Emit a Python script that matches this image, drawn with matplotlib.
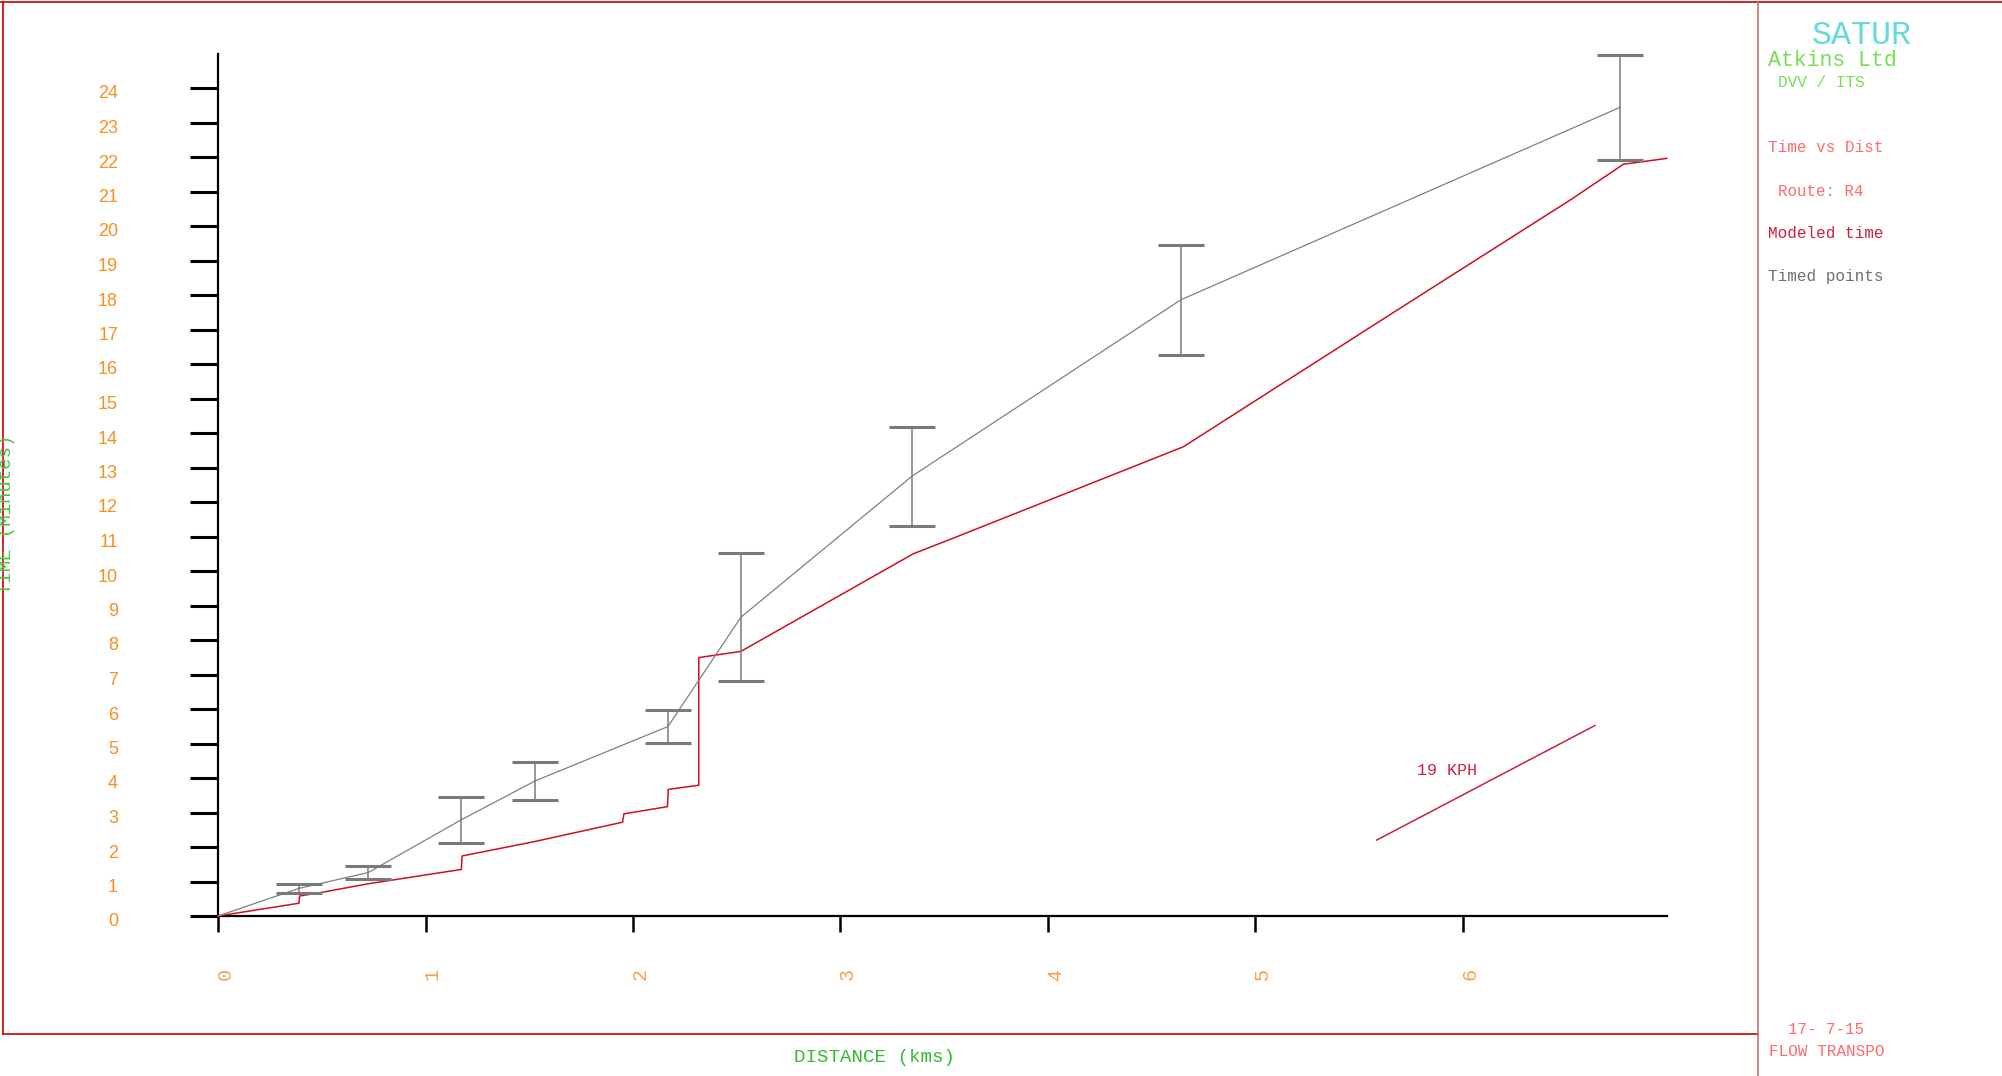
import matplotlib
matplotlib.use("Agg")
import matplotlib.pyplot as plt
from matplotlib.lines import Line2D
from matplotlib.transforms import ScaledTranslation

# ---- data -------------------------------------------------------------
# Timed survey points: distance (km), mean travel time (min), half spread (min)
timed_km = [0.0, 0.39, 0.724, 1.173, 1.53, 2.168, 2.52, 3.345, 4.64, 6.757]
timed_min = [0.0, 0.80, 1.26, 2.79, 3.92, 5.49, 8.66, 12.75, 17.86, 23.44]
timed_spread = [0.0, 0.125, 0.175, 0.665, 0.545, 0.47, 1.86, 1.435, 1.585, 1.515]

# Modeled cumulative travel time along the route
model_km = [0.0, 0.39, 0.393, 0.505, 0.72, 1.173, 1.176, 1.52, 1.95, 1.956,
            2.166, 2.17, 2.317, 2.317, 2.52, 3.351, 3.53, 4.652, 5.729,
            6.516, 6.773, 6.982]
model_min = [0.0, 0.37, 0.58, 0.69, 0.93, 1.35, 1.74, 2.15, 2.72, 2.96,
             3.17, 3.67, 3.79, 7.49, 7.67, 10.5, 10.92, 13.6, 17.74,
             20.75, 21.79, 21.96]

# Reference speed line
ref_kph = 19
ref_start_km = 5.584
ref_start_min = 2.20
ref_length_km = 1.052

x_ticks = [0, 1, 2, 3, 4, 5, 6]
y_ticks = list(range(0, 25))

W, H = 2002, 1076
MONO = ["Liberation Mono", "DejaVu Sans Mono"]


def fx(px):
    return px / W


def fy(py):
    return 1 - py / H


fig = plt.figure(figsize=(W / 100, H / 100), dpi=100)
fig.patch.set_facecolor("white")

ax = fig.add_axes([fx(218), 160 / H, 1449 / W, 862.5 / H])
ax.set_facecolor("none")
ax.set_xlim(0, 1449 / 207.5)
ax.set_ylim(0, 25)

for side in ("top", "right"):
    ax.spines[side].set_visible(False)
for side in ("left", "bottom"):
    ax.spines[side].set_linewidth(1.6)
    ax.spines[side].set_color("black")

ax.set_xticks(x_ticks)
ax.set_xticklabels([str(t) for t in x_ticks], rotation=90,
                   fontfamily=MONO, fontsize=14.5, color="#f9a04a")
ax.set_yticks(y_ticks)
ax.set_yticklabels([str(t) for t in y_ticks],
                   fontfamily=["Liberation Sans", "DejaVu Sans"],
                   fontsize=13, color="#f7901e")
ax.tick_params(axis="y", direction="out", length=20, width=2.2, pad=52,
               color="black")
ax.tick_params(axis="x", direction="out", length=11.5, width=1.8, pad=26,
               color="black")

# nudge tick labels slightly
for lab in ax.get_xticklabels():
    lab.set_transform(lab.get_transform()
                      + ScaledTranslation(7 / 100, 0, fig.dpi_scale_trans))
for lab in ax.get_yticklabels():
    lab.set_transform(lab.get_transform()
                      + ScaledTranslation(0, -4 / 100, fig.dpi_scale_trans))

# modeled time
ax.plot(model_km, model_min, color="#cc1020", lw=1.1, clip_on=False, zorder=3)

# timed points with spread bars
ax.plot(timed_km, timed_min, color="#808080", lw=0.9, clip_on=False, zorder=3)
eb = ax.errorbar(timed_km[1:], timed_min[1:], yerr=timed_spread[1:],
                 fmt="none", ecolor="#7a7a7a", elinewidth=1.1,
                 capsize=16.5, capthick=2.2, zorder=4, clip_on=False)
for cap in eb[1]:
    cap.set_color("#555555")

# reference speed line (minutes per km = 60 / kph)
ref_end_km = ref_start_km + ref_length_km
ref_end_min = ref_start_min + ref_length_km * 60 / ref_kph
ax.plot([ref_start_km, ref_end_km], [ref_start_min, ref_end_min],
        color="#cc2040", lw=1.1)
ax.text(5.78, 4.23, f"{ref_kph} KPH", fontfamily=MONO, fontsize=12,
        color="#cc2040", ha="left", va="center")

# axis titles
fig.text(fx(875), fy(1057), "DISTANCE (kms)", fontfamily=MONO, fontsize=13.8,
         color="#33bb33", ha="center", va="center")
fig.text(fx(7), fy(514), "TIME (Minutes)", fontfamily=MONO, fontsize=13.7,
         color="#44c444", ha="center", va="center", rotation=90)

# side panel
panel = [
    ("SATUR", 1812, 35, 24, "#66d9d9"),
    ("Atkins Ltd", 1768, 60, 15.5, "#77dd55"),
    ("DVV / ITS", 1778, 83, 11.6, "#77dd55"),
    ("Time vs Dist", 1768, 148, 11.5, "#ff6b6b"),
    ("Route: R4", 1778, 192, 11.3, "#ff6b6b"),
    ("Modeled time", 1768, 234, 11.5, "#cc1f3d"),
    ("Timed points", 1768, 277, 11.5, "#707070"),
    ("17- 7-15", 1788, 1030, 11.4, "#ff6b6b"),
    ("FLOW TRANSPO", 1769, 1052, 11.5, "#ff6b6b"),
]
for txt, x, y, size, col in panel:
    fig.text(fx(x), fy(y), txt, fontfamily=MONO, fontsize=size, color=col,
             ha="left", va="center")

# frame lines
frame = [
    ((0, W), (2, 2), "#cc0000"),
    ((3, 3), (2, 1034), "#cc0000"),
    ((3, 1758), (1034, 1034), "#cc0000"),
    ((1758, 1758), (2, H), "#d07070"),
]
for xs, ys, col in frame:
    fig.add_artist(Line2D([fx(xs[0]), fx(xs[1])], [fy(ys[0]), fy(ys[1])],
                          transform=fig.transFigure, color=col, lw=1.2))

fig.savefig("out.png", dpi=100)
